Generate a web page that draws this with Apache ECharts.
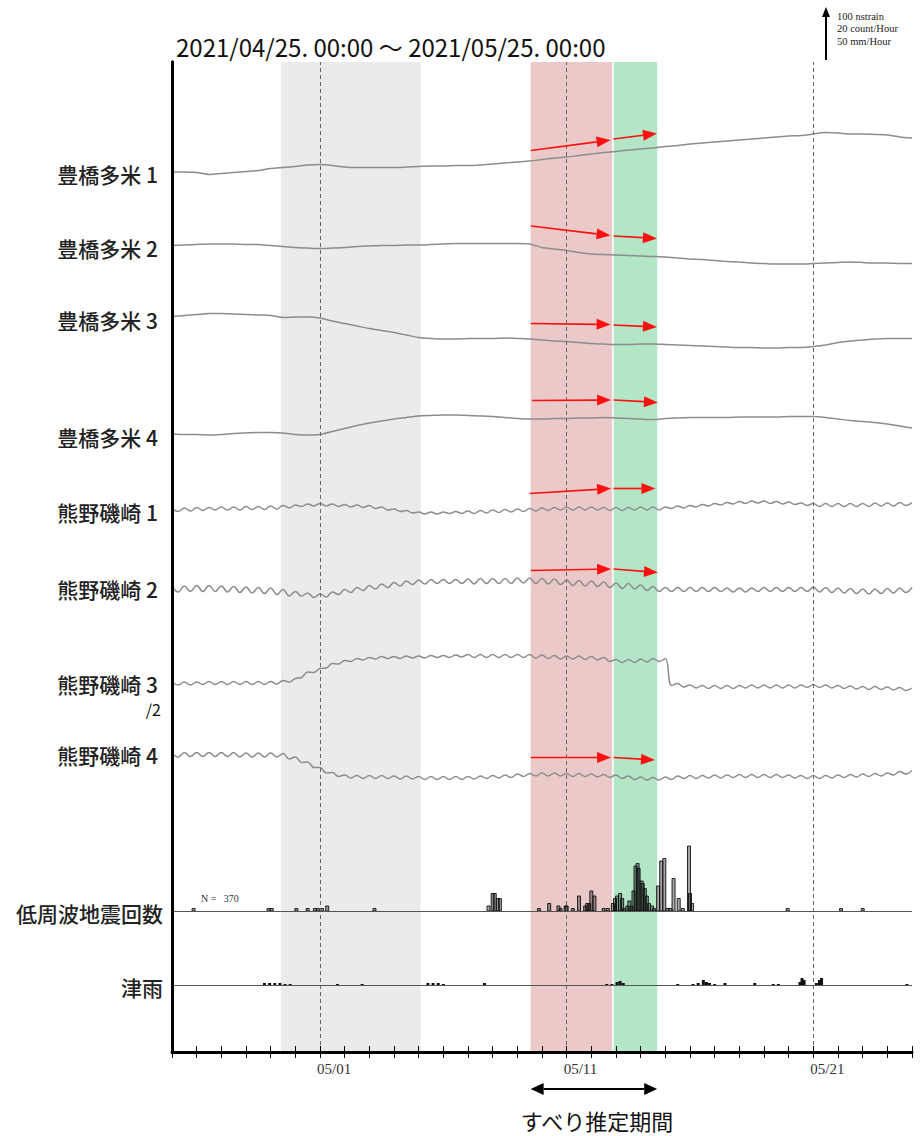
<!DOCTYPE html>
<html><head><meta charset="utf-8">
<script src="https://cdn.jsdelivr.net/npm/echarts@6/dist/echarts.min.js"></script>
<style>html,body{margin:0;padding:0;background:#fff}#c{width:922px;height:1136px}</style>
</head><body><div id="c"></div>
<script>
// ================= DATA =================
const periodTitle = '2021/04/25. 00:00 ～ 2021/05/25. 00:00';
const xTickDays = [6, 16, 26];               // days after 2021/04/25 00:00
const xTickLabels = ['05/01', '05/11', '05/21'];
const stationNames = ['豊橋多米 1', '豊橋多米 2', '豊橋多米 3', '豊橋多米 4', '熊野磯崎 1', '熊野磯崎 2', '熊野磯崎 3', '熊野磯崎 4'];
const lfeName = '低周波地震回数';
const rainName = '津雨';
const scaleTexts = ['100 nstrain', '20 count/Hour', '50 mm/Hour'];
const slipLabel = 'すべり推定期間';
const lfeTotal = 370;

// strain changes (nstrain) — Toyohashi-Tame: every 12 h
const toyohashiStepH = 12;
const toyohashi1 = [0,0,-1,-5,-3,-1,1,3,7,9, 11,14,15,13,10,9,9,9,9,10, 11,12,12,13,13,14,16,18,20,22, 25,28,30,33,36,39,41,44,46,48, 51,53,56,58,60,62,64,66,68,70, 72,73,76,79,78,76,76,75,74,70, 68];
const toyohashi2 = [0,1,2,3,3,3,2,2,0,-2, -4,-5,-6,-5,-4,-2,-1,0,0,1, 1,2,3,4,4,4,4,4,4,3, -4,-7,-10,-14,-17,-18,-19,-20,-21,-22, -23,-25,-27,-28,-30,-32,-33,-35,-36,-37, -37,-37,-36,-35,-34,-33,-34,-35,-35,-36, -36];
const toyohashi3 = [0,2,4,6,6,5,4,3,2,-2, -1,-1,-3,-9,-14,-19,-24,-28,-32,-37, -42,-44,-45,-45,-44,-44,-44,-43,-44,-45, -47,-49,-50,-52,-54,-55,-56,-56,-55,-55, -56,-57,-58,-59,-60,-61,-62,-62,-63,-63, -62,-62,-60,-57,-52,-49,-47,-45,-44,-44, -44];
const toyohashi4 = [0,-1,-1,-2,-1,1,2,3,3,2, -1,-2,-1,5,11,17,22,26,30,33, 36,37,38,38,37,36,35,33,31,30, 30,31,31,32,32,33,32,31,30,29, 31,32,33,33,33,33,34,34,34,34, 35,35,35,33,30,27,25,23,20,16, 12];
// Kumano-Isozaki: every 6 h (tidal ripple visible)
const kumanoStepH = 6;
const kumano1 = [3,-3,4,-2,5,-1,5,0,6,0,6,0,7,1,7,1,8,2,9,4,10,7,12,8,13,8,12,7,11,6,10,5,9,3,6,0,2,-3,-1,-6,-4,-8,-4,-8,-4,-7,-3,-7,-2,-7,-1,-6,0,-5,1,-4,2,-3,3,-2,4,-1,5,0,6,0,6,0,6,0,5,-1,5,-1,5,0,6,0,6,0,6,3,8,4,9,6,11,8,13,10,15,12,17,13,18,14,18,13,17,12,16,11,14,9,13,7,13,7,13,7,13,7,13,7,14,8,14,8,15,9,15];
const kumano2 = [6,-6,6,-5,7,-5,7,-5,6,-6,5,-7,4,-8,3,-9,2,-11,-1,-14,-5,-14,-8,-17,-10,-16,-6,-11,-1,-7,3,-3,7,0,10,3,13,6,16,9,18,10,19,11,19,11,19,11,20,10,21,11,21,11,21,11,22,12,22,11,21,10,20,9,18,7,17,6,16,5,14,3,12,1,11,0,8,-3,5,-5,3,-5,3,-5,3,-5,3,-5,3,-5,2,-6,2,-6,2,-5,3,-5,3,-5,3,-5,3,-5,4,-6,3,-7,2,-8,1,-9,0,-10,0,-9,1,-8,2,-7,3];
const kumano3 = [3,-3,3,-3,3,-2,4,-2,4,-2,4,-2,4,-2,4,-2,4,-1,6,3,10,12,23,22,30,31,40,39,46,44,50,47,52,49,54,50,54,50,55,51,55,51,56,52,56,52,57,53,58,52,58,52,58,52,58,52,58,52,58,51,57,50,56,49,55,49,55,48,54,47,52,44,48,42,48,42,49,43,50,44,50,-4,0,-7,-3,-9,-4,-10,-4,-10,-4,-10,-4,-9,-3,-9,-3,-9,-3,-9,-3,-9,-3,-8,-2,-8,-3,-9,-4,-10,-5,-11,-6,-12,-6,-12,-7,-13,-8,-14,-9];
const kumano4 = [4,-4,5,-3,5,-3,5,-3,5,-3,5,-4,4,-4,4,-4,4,-4,3,-8,-4,-15,-14,-25,-25,-36,-35,-43,-40,-46,-41,-47,-41,-47,-41,-47,-42,-48,-42,-48,-43,-49,-43,-49,-43,-49,-43,-49,-43,-48,-42,-47,-41,-46,-40,-45,-38,-43,-37,-42,-36,-42,-36,-42,-37,-43,-37,-43,-38,-44,-39,-45,-40,-47,-42,-49,-44,-50,-45,-50,-44,-49,-42,-47,-41,-47,-41,-46,-40,-46,-40,-45,-39,-45,-39,-45,-39,-45,-39,-45,-40,-46,-41,-47,-41,-47,-41,-46,-40,-45,-39,-44,-38,-43,-37,-42,-36,-40,-33,-38,-31];

// low-frequency earthquakes (hours after start, count/hour)
const lfeHour  = [21,94,97,121,132,139,142,146,151,197, 308,312,314,317,319, 357,367,376,378,383,384,390,396,402,404,406,408,411, 420,424,429,431,433,436,438,440,443,445,447,449, 451,453,454,457,458,460,462,464,467,469, 473,476,479,482,485,488,493,497, 503,504,506, 599,651,672];
const lfeCount = [1,1,1,1,1,1,1,1,2,1, 2,7,7,5,5, 1,3,2,1,2,2,1,6,2,3,3,8,6, 1,1,3,5,6,7,5,1,2,4,2,8, 18,19,17,12,11,9,6,3,2,1, 10,20,21,1,1,13,5,1, 26,7,3, 1,1,1];
// rainfall at Tsu (hours after start, mm/hour)
const rainHour = [90,95,100,105,110,115, 161,185, 249,254,259,264, 304, 423,428,433,436,439, 492, 507,512,517,520,523,528, 538, 567, 585,590, 611,613,615, 627,630,632, 715];
const rainMm   = [2,2,2,2,1,1, 1,1, 2,2,2,1, 2, 1,1,3,4,2, 1, 1,2,5,3,2,1, 2, 2, 1,1, 3,7,5, 2,5,7, 1];

// periods (days after start)
const grayPeriod  = [4.42, 10.08];
const redPeriod   = [14.54, 17.875];
const greenPeriod = [17.875, 19.67];
// slip-direction arrows: [station index, day1, nstrain1, day2, nstrain2]
const slipArrows = [
  [0,14.55,43,17.78,64],[0,17.9,66,19.66,77],
  [1,14.55,39,17.78,20],[1,17.9,19,19.66,14],
  [2,14.55,-14,17.78,-16],[2,17.9,-17,19.66,-21],
  [3,14.6,67,17.8,68],[3,17.9,68,19.7,63],
  [4,14.5,33,17.8,43],[4,17.9,43,19.6,43],
  [5,14.55,37,17.8,40],[5,17.9,40,19.7,33],
  [7,14.55,-5,17.8,-5],[7,17.9,-5,19.58,-10]
];

// ================= LAYOUT =================
const G = {left: 172, top: 62, width: 740, height: 990};
const PX_PER_UNIT = 0.5;                  // 100 nstrain = 50 px
const LFE_UNIT = 100 / 20;                // 20 count/h  = 100 nstrain-equivalent
const RAIN_UNIT = 100 / 50;               // 50 mm/h     = 100 nstrain-equivalent
const yMax = G.height / PX_PER_UNIT;
const traceRows = [172, 245.5, 316.5, 434, 510, 589, 683.5, 755];
const labelRows = [174, 248, 320, 437, 512, 589, 684, 755];
const lfeRow = 911, rainRow = 985;
const baseOf = r => (G.top + G.height - r) / PX_PER_UNIT;

const traces = [toyohashi1, toyohashi2, toyohashi3, toyohashi4, kumano1, kumano2, kumano3, kumano4];
const stepsH = [toyohashiStepH, toyohashiStepH, toyohashiStepH, toyohashiStepH, kumanoStepH, kumanoStepH, kumanoStepH, kumanoStepH];

const series = [];
// background shading and dashed day lines
series.push({
  type: 'line', data: [], z: 1, silent: true,
  markArea: {silent: true, data: [
    [{xAxis: grayPeriod[0], itemStyle: {color: '#ebebeb'}}, {xAxis: grayPeriod[1]}],
    [{xAxis: redPeriod[0], itemStyle: {color: '#ecc9c9'}}, {xAxis: redPeriod[1] - 0.03}],
    [{xAxis: greenPeriod[0] + 0.03, itemStyle: {color: '#b2e6c7'}}, {xAxis: greenPeriod[1]}]
  ]},
  markLine: {silent: true, symbol: ['none', 'none'], label: {show: false},
    lineStyle: {color: '#666', width: 1, type: [4, 3]},
    data: xTickDays.map(d => ({xAxis: d}))}
});
// strain traces
traces.forEach((arr, k) => {
  const base = baseOf(traceRows[k]);
  series.push({
    type: 'line', z: 3, showSymbol: false, silent: true, animation: false,
    smooth: stepsH[k] === kumanoStepH ? 0.4 : 0.2,
    lineStyle: {color: '#8c8c8c', width: 1.5},
    data: arr.map((v, i) => [i * stepsH[k] / 24, base + v])
  });
});
// baselines for LFE and rain
[lfeRow, rainRow].forEach(r => {
  series.push({type: 'line', data: [], z: 3, silent: true,
    markLine: {silent: true, symbol: ['none', 'none'], label: {show: false},
      lineStyle: {color: '#555', width: 1.2, type: 'solid'}, data: [{yAxis: baseOf(r)}]}});
});
// LFE bars
series.push({
  type: 'custom', z: 4, silent: true,
  data: lfeHour.map((h, i) => [h / 24, lfeCount[i]]),
  encode: {x: 0, y: 1},
  renderItem: (p, api) => {
    const b = baseOf(lfeRow);
    const p0 = api.coord([api.value(0), b]);
    const p1 = api.coord([api.value(0), b + api.value(1) * LFE_UNIT]);
    return {type: 'rect', shape: {x: p0[0] - 1.5, y: p1[1], width: 3, height: p0[1] - p1[1]},
      style: {fill: 'rgba(0,0,0,0.35)', stroke: '#111', lineWidth: 0.9}};
  }
});
// rain bars
series.push({
  type: 'custom', z: 4, silent: true,
  data: rainHour.map((h, i) => [h / 24, rainMm[i]]),
  encode: {x: 0, y: 1},
  renderItem: (p, api) => {
    const b = baseOf(rainRow);
    const p0 = api.coord([api.value(0), b]);
    const p1 = api.coord([api.value(0), b + api.value(1) * RAIN_UNIT]);
    return {type: 'rect', shape: {x: p0[0] - 1.5, y: p1[1], width: 3, height: p0[1] - p1[1]},
      style: {fill: '#111'}};
  }
});
// red slip arrows
series.push({
  type: 'custom', z: 5, silent: true,
  data: slipArrows,
  encode: {x: 1, y: 2},
  renderItem: (p, api) => {
    const base = baseOf(traceRows[api.value(0)]);
    const a = api.coord([api.value(1), base + api.value(2)]);
    const b = api.coord([api.value(3), base + api.value(4)]);
    const dx = b[0] - a[0], dy = b[1] - a[1], L = Math.hypot(dx, dy), ux = dx / L, uy = dy / L;
    const hl = 14, hw = 5.5;
    const bx = b[0] - ux * hl, by = b[1] - uy * hl;
    return {type: 'group', children: [
      {type: 'line', shape: {x1: a[0], y1: a[1], x2: bx, y2: by}, style: {stroke: '#ff1010', lineWidth: 1.7}},
      {type: 'polygon', shape: {points: [[b[0], b[1]], [bx - uy * hw, by + ux * hw], [bx + uy * hw, by - ux * hw]]}, style: {fill: '#ff1010'}}
    ]};
  }
});
// slip-estimate period arrow + label (below axis)
series.push({
  type: 'custom', z: 5, silent: true, clip: false,
  data: [[redPeriod[0], greenPeriod[1]]],
  encode: {x: [0, 1]},
  renderItem: (p, api) => {
    const x1 = api.coord([api.value(0), 0])[0], x2 = api.coord([api.value(1), 0])[0];
    const y = 1089, hl = 13, hw = 6;
    return {type: 'group', children: [
      {type: 'line', shape: {x1: x1 + hl, y1: y, x2: x2 - hl, y2: y}, style: {stroke: '#000', lineWidth: 1.8}},
      {type: 'polygon', shape: {points: [[x1, y], [x1 + hl, y - hw], [x1 + hl, y + hw]]}, style: {fill: '#000'}},
      {type: 'polygon', shape: {points: [[x2, y], [x2 - hl, y - hw], [x2 - hl, y + hw]]}, style: {fill: '#000'}},
      {type: 'text', style: {text: slipLabel, x: (x1 + x2) / 2 + 3, y: 1120, align: 'center', verticalAlign: 'middle',
        font: '22px "Noto Sans CJK JP"', fill: '#111'}}
    ]};
  }
});

// side labels and header graphics
const graphics = [];
stationNames.forEach((n, k) => graphics.push({type: 'text', x: 158, y: labelRows[k],
  style: {text: n, align: 'right', verticalAlign: 'middle', font: '500 21px "Noto Sans CJK JP"', fill: '#222'}}));
graphics.push({type: 'text', x: 161, y: 709, style: {text: '/2', align: 'right', verticalAlign: 'middle', font: '16px "Noto Sans CJK JP"', fill: '#111'}});
graphics.push({type: 'text', x: 163, y: 913, style: {text: lfeName, align: 'right', verticalAlign: 'middle', font: '500 21px "Noto Sans CJK JP"', fill: '#222'}});
graphics.push({type: 'text', x: 163, y: 987, style: {text: rainName, align: 'right', verticalAlign: 'middle', font: '500 21px "Noto Sans CJK JP"', fill: '#222'}});
graphics.push({type: 'text', x: 201, y: 898, style: {text: 'N =   ' + lfeTotal, align: 'left', verticalAlign: 'middle', font: '10px "Liberation Serif"', fill: '#333'}});
graphics.push({type: 'text', x: 176, y: 46, style: {text: periodTitle, align: 'left', verticalAlign: 'middle', font: '24px "Noto Sans CJK JP"', fill: '#111'}});
// scale arrow
graphics.push({type: 'line', shape: {x1: 826, y1: 60, x2: 826, y2: 16}, style: {stroke: '#000', lineWidth: 2}});
graphics.push({type: 'polygon', shape: {points: [[826, 7], [822, 17], [830, 17]]}, style: {fill: '#000'}});
scaleTexts.forEach((t, i) => graphics.push({type: 'text', x: 837, y: 16 + i * 12.5,
  style: {text: t, align: 'left', verticalAlign: 'middle', font: '10.5px "Liberation Serif"', fill: '#222'}}));

const xAxisBase = {type: 'value', min: 0, max: 30, interval: 1, z: 10,
  splitLine: {show: false}, axisTick: {inside: true, length: 6, lineStyle: {color: '#000', width: 1}}};

const chart = echarts.init(document.getElementById('c'), null, {renderer: 'svg', width: 922, height: 1136});
chart.setOption({
  animation: false,
  backgroundColor: '#fff',
  grid: {left: G.left, top: G.top, width: G.width, height: G.height, containLabel: false},
  xAxis: [
    Object.assign({}, xAxisBase, {position: 'bottom',
      axisLine: {lineStyle: {color: '#000', width: 3}},
      axisLabel: {show: true, margin: 9, align: 'left', padding: [0, 0, 0, -3], fontFamily: 'Liberation Serif', fontSize: 15, color: '#333',
        formatter: v => { const i = xTickDays.indexOf(v); return i >= 0 ? xTickLabels[i] : ''; }}}),
    Object.assign({}, xAxisBase, {position: 'top',
      axisLine: {lineStyle: {color: '#000', width: 2}}, axisLabel: {show: false}})
  ],
  yAxis: [
    {type: 'value', min: 0, max: yMax, position: 'left', z: 10, axisLine: {show: true, lineStyle: {color: '#000', width: 3}},
      axisTick: {show: false}, axisLabel: {show: false}, splitLine: {show: false}},
    {type: 'value', min: 0, max: yMax, position: 'right', z: 10, axisLine: {show: true, lineStyle: {color: '#000', width: 3}},
      axisTick: {show: false}, axisLabel: {show: false}, splitLine: {show: false}}
  ],
  graphic: graphics,
  series: series
});
</script>
</body></html>
